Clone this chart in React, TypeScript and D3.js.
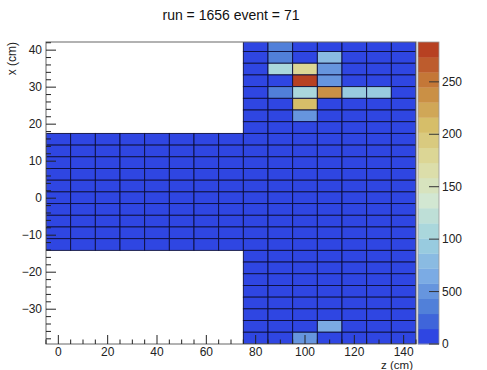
import React from 'react';
import * as d3 from 'd3';

// detector cells: columns are 10 cm wide in z, rows ~3.16 cm tall in x
const colEdges = [-5, 5, 15, 25, 35, 45, 55, 65, 75, 85, 95, 105, 115, 125, 135, 145];
const rowTop = 42.78;
const rowStep = 3.16;
const nRows = 26;
// left module covers columns 0..7 and rows 8..17, right module all rows
const leftCols = [0, 1, 2, 3, 4, 5, 6, 7];
const leftRows = [8, 9, 10, 11, 12, 13, 14, 15, 16, 17];
const rightCols = [8, 9, 10, 11, 12, 13, 14];

// hits above the pedestal (z centre in cm, row index, energy)
const hitZ = [90, 90, 110, 90, 100, 110, 100, 110, 90, 100, 110, 120, 130, 100, 100, 110, 100];
const hitRow = [0, 1, 1, 2, 2, 2, 3, 3, 4, 4, 4, 4, 4, 5, 6, 24, 25];
const hitE = [40, 42, 75, 112, 180, 55, 282, 45, 36, 115, 238, 92, 92, 210, 55, 58, 45];
const pedestal = 5;

const zMaxScale = 288;
const nContours = 20;
const zTicks = [0, 50, 100, 150, 200, 250];
const zTickLabels = ['0', '500', '100', '150', '200', '250'];
const xTicks = [0, 20, 40, 60, 80, 100, 120, 140];
const yTicks = [-30, -20, -10, 0, 10, 20, 30, 40];

// ROOT kLightTemperature
const paletteStops = [
  [31, 40, 234], [71, 117, 214], [123, 171, 228], [160, 211, 222], [210, 231, 210],
  [222, 220, 160], [214, 190, 105], [199, 132, 60], [183, 65, 34],
];

const W = 487;
const H = 370;
const plot = { left: 46, right: 416, top: 42, bottom: 344 };
const bar = { left: 418, right: 439 };
const font = '"Liberation Sans", Arial, sans-serif';

const palette = d3.scaleLinear<string>()
  .domain(paletteStops.map((_, i) => i / (paletteStops.length - 1)))
  .range(paletteStops.map(c => `rgb(${c[0]},${c[1]},${c[2]})`))
  .interpolate(d3.interpolateRgb);

const bandColor = (band: number) => palette(Math.min(1, (band + 0.99) / nContours));
const valueColor = (v: number) =>
  bandColor(Math.min(nContours - 1, Math.floor(v / (zMaxScale / nContours))));

export default function App() {
  const x = d3.scaleLinear().domain([-5, 145]).range([plot.left, plot.right]);
  const y = d3.scaleLinear().domain([-39.4, 42.2]).range([plot.bottom, plot.top]);
  const zc = d3.scaleLinear().domain([0, zMaxScale]).range([plot.bottom, plot.top]);

  const rowY0 = (r: number) => rowTop - rowStep * r;
  const cells: { c: number; r: number; v: number }[] = [];
  leftRows.forEach(r => leftCols.forEach(c => cells.push({ c, r, v: pedestal })));
  d3.range(nRows).forEach(r => rightCols.forEach(c => cells.push({ c, r, v: pedestal })));
  hitZ.forEach((z, i) => {
    const c = d3.bisectRight(colEdges, z) - 1;
    const cell = cells.find(d => d.c === c && d.r === hitRow[i]);
    if (cell) cell.v = hitE[i];
  });

  const minorX = d3.range(-5, 146, 5).filter(v => v % 20 !== 0);
  const minorY = d3.range(-38, 43, 2).filter(v => v % 10 !== 0);
  const bands = d3.range(nContours);
  const bandH = zMaxScale / nContours;

  return (
    <svg width={W} height={H} style={{ position: 'absolute', left: 0, top: 0, background: '#fff' }}
      fontFamily={font}>
      <defs>
        <clipPath id="frame">
          <rect x={plot.left} y={plot.top} width={plot.right - plot.left} height={plot.bottom - plot.top} />
        </clipPath>
      </defs>
      <text x={231} y={20} textAnchor="middle" fontSize={14} fill="#111">run = 1656 event = 71</text>

      <g clipPath="url(#frame)">
        {cells.map((d, i) => {
          const x0 = x(colEdges[d.c]);
          const x1 = x(colEdges[d.c + 1]);
          const y0 = y(rowY0(d.r));
          const y1 = y(rowY0(d.r + 1));
          return (
            <rect key={i} x={x0} y={y0} width={x1 - x0} height={y1 - y0}
              fill={valueColor(d.v)} stroke="#0d0f3c" strokeWidth={0.9} />
          );
        })}
      </g>

      <rect x={plot.left} y={plot.top} width={plot.right - plot.left} height={plot.bottom - plot.top}
        fill="none" stroke="#666" strokeWidth={1} />

      {/* axes ticks */}
      <g stroke="#222" strokeWidth={1}>
        {xTicks.map(t => <line key={t} x1={x(t)} x2={x(t)} y1={plot.bottom} y2={plot.bottom - 9} />)}
        {minorX.map(t => <line key={t} x1={x(t)} x2={x(t)} y1={plot.bottom} y2={plot.bottom - 4.5} />)}
        {yTicks.map(t => <line key={t} x1={plot.left} x2={plot.left + 10} y1={y(t)} y2={y(t)} />)}
        {minorY.map(t => <line key={t} x1={plot.left} x2={plot.left + 5} y1={y(t)} y2={y(t)} />)}
      </g>
      {xTicks.map(t => (
        <text key={t} x={x(t)} y={356} textAnchor="middle" fontSize={12} fill="#222">{t}</text>
      ))}
      {yTicks.map(t => (
        <text key={t} x={42} y={y(t) + 4} textAnchor="end" fontSize={12} fill="#222">
          {t < 0 ? `\u2212${-t}` : t}
        </text>
      ))}
      <text x={413} y={369} textAnchor="end" fontSize={11.5} fill="#222">z (cm)</text>
      <text transform={`translate(16,42) rotate(-90)`} textAnchor="end" fontSize={12} fill="#222">x (cm)</text>

      {/* colour bar */}
      {bands.map(b => (
        <rect key={b} x={bar.left} y={zc((b + 1) * bandH)} width={bar.right - bar.left}
          height={zc(b * bandH) - zc((b + 1) * bandH) + 0.3} fill={bandColor(b)} />
      ))}
      <rect x={bar.left} y={plot.top} width={bar.right - bar.left} height={plot.bottom - plot.top}
        fill="none" stroke="#999" strokeWidth={0.8} />
      {zTicks.map((t, i) => (
        <g key={t}>
          <line x1={bar.right} x2={bar.right - 10} y1={zc(t)} y2={zc(t)} stroke="#333" strokeWidth={1} />
          <text x={442} y={zc(t) + 4} fontSize={12} fill="#222">{zTickLabels[i]}</text>
        </g>
      ))}
    </svg>
  );
}
